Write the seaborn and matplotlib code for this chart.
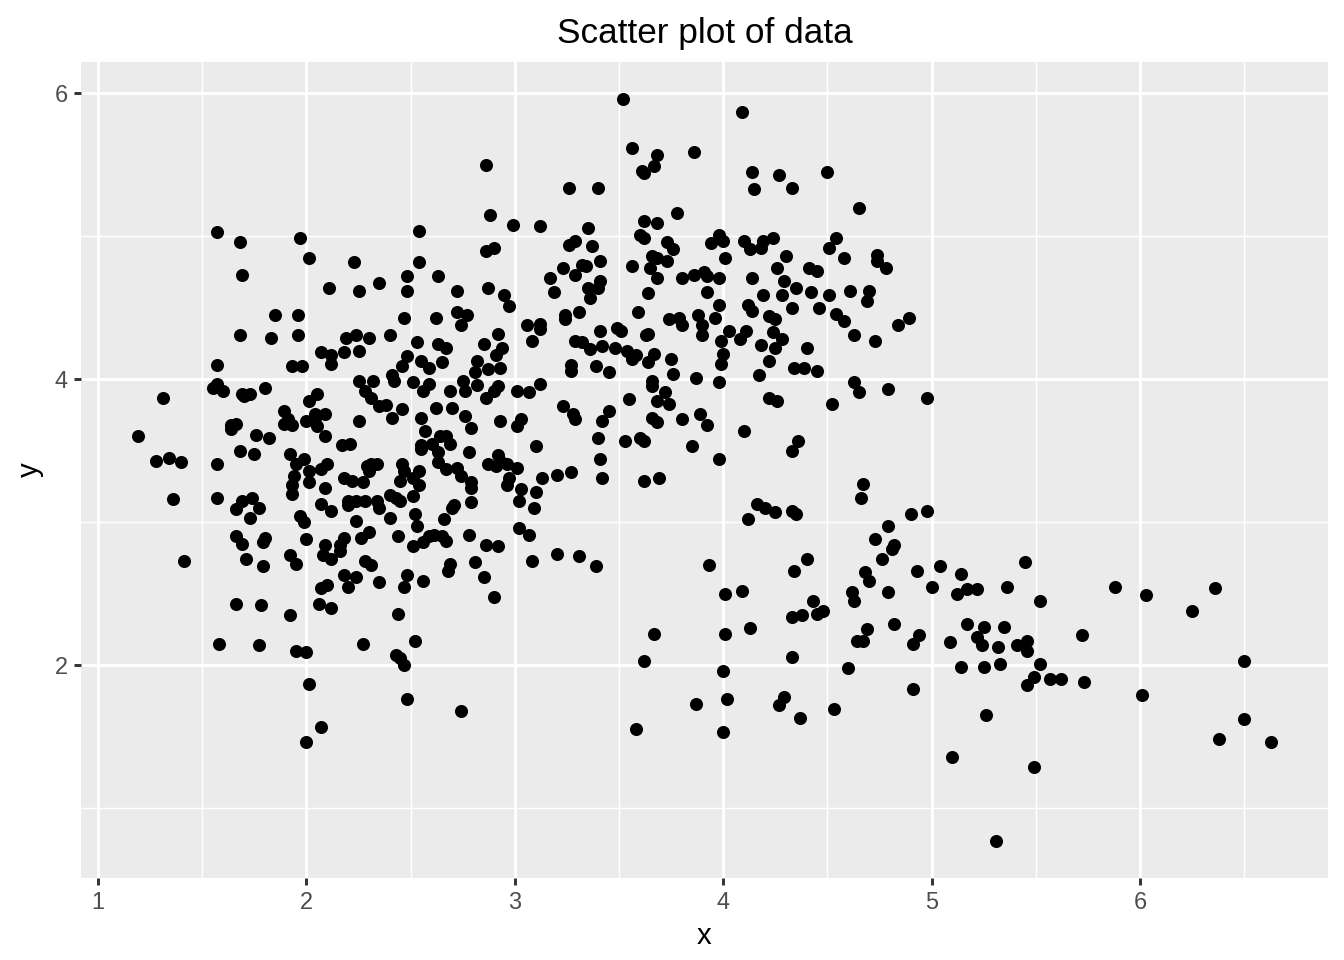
import numpy as np
import pandas as pd
import matplotlib
matplotlib.use("Agg")
import matplotlib.pyplot as plt
import seaborn as sns

# (x, y) values, grouped by area of the plot

# upper left (x < 2.5, y > 4.25)
upper_left = [
    (1.57, 5.03), (1.68, 4.96), (1.97, 4.99), (2.01, 4.85), (1.69, 4.73), (2.23, 4.82),
    (2.11, 4.64), (2.25, 4.62), (2.35, 4.67), (2.48, 4.72), (2.48, 4.62), (1.85, 4.45),
    (1.96, 4.45), (2.47, 4.43), (1.68, 4.31), (1.83, 4.29), (1.96, 4.31), (2.19, 4.29),
    (2.24, 4.31), (2.30, 4.29), (2.40, 4.31),
]

# upper middle (2.5 < x < 4, y > 4.25)
upper_mid = [
    (3.52, 5.96), (2.86, 5.50), (3.56, 5.62), (3.68, 5.57), (3.67, 5.49), (3.61, 5.46),
    (3.62, 5.44), (3.86, 5.59), (3.26, 5.34), (3.40, 5.34), (3.78, 5.16), (2.88, 5.15),
    (2.99, 5.08), (3.12, 5.07), (2.54, 5.04), (3.62, 5.11), (3.68, 5.09), (3.35, 5.06),
    (3.60, 5.01), (3.62, 4.99), (3.26, 4.94), (3.29, 4.97), (3.37, 4.93), (3.98, 5.01),
    (4.00, 4.97), (3.94, 4.95), (3.73, 4.96), (3.76, 4.91), (2.86, 4.90), (2.90, 4.92),
    (3.41, 4.83), (4.01, 4.85), (2.54, 4.82), (3.66, 4.86), (3.68, 4.85), (3.65, 4.78),
    (3.73, 4.83), (3.56, 4.79), (3.23, 4.78), (3.32, 4.80), (3.34, 4.79), (2.63, 4.72),
    (3.29, 4.73), (3.17, 4.71), (3.68, 4.71), (3.80, 4.71), (3.86, 4.73), (3.91, 4.75),
    (3.92, 4.72), (3.98, 4.71), (2.87, 4.64), (2.72, 4.62), (3.41, 4.69), (3.40, 4.64),
    (3.35, 4.64), (3.36, 4.57), (3.19, 4.61), (2.95, 4.59), (2.97, 4.51), (3.64, 4.60),
    (3.92, 4.61), (3.98, 4.52), (3.59, 4.47), (3.96, 4.43), (3.88, 4.45), (3.74, 4.42),
    (3.79, 4.43), (3.80, 4.38), (3.90, 4.38), (3.90, 4.31), (3.31, 4.47), (3.24, 4.45),
    (3.24, 4.42), (2.72, 4.47), (2.77, 4.45), (2.74, 4.38), (2.62, 4.43), (3.06, 4.38),
    (3.12, 4.39), (3.12, 4.35), (3.49, 4.36), (3.51, 4.34), (3.41, 4.34), (2.92, 4.32),
    (3.63, 4.31), (3.64, 4.32), (4.03, 4.34),
]

# upper right (x > 4, y > 4.25)
upper_right = [
    (4.09, 5.87), (4.14, 5.45), (4.15, 5.33), (4.27, 5.43), (4.33, 5.34), (4.50, 5.45),
    (4.65, 5.20), (4.10, 4.97), (4.13, 4.91), (4.18, 4.92), (4.19, 4.97), (4.24, 4.99),
    (4.54, 4.99), (4.51, 4.92), (4.30, 4.86), (4.26, 4.78), (4.41, 4.78), (4.45, 4.76),
    (4.58, 4.85), (4.74, 4.87), (4.74, 4.83), (4.78, 4.78), (4.14, 4.71), (4.29, 4.69),
    (4.35, 4.64), (4.19, 4.59), (4.28, 4.59), (4.42, 4.61), (4.51, 4.59), (4.61, 4.62),
    (4.70, 4.62), (4.69, 4.55), (4.12, 4.52), (4.14, 4.48), (4.33, 4.50), (4.46, 4.50),
    (4.22, 4.44), (4.25, 4.42), (4.54, 4.46), (4.58, 4.41), (4.89, 4.43), (4.84, 4.38),
    (4.63, 4.31), (4.11, 4.34), (4.08, 4.28), (4.24, 4.33), (4.28, 4.28), (4.73, 4.27),
]

# right middle (x > 4, 2.3 < y < 4.25)
right_mid = [
    (4.18, 4.24), (4.25, 4.22), (4.40, 4.22), (4.22, 4.13), (4.34, 4.08), (4.39, 4.08),
    (4.45, 4.06), (4.17, 4.03), (4.63, 3.98), (4.65, 3.91), (4.79, 3.93), (4.98, 3.87),
    (4.52, 3.83), (4.22, 3.87), (4.26, 3.85), (4.10, 3.64), (4.36, 3.57), (4.33, 3.50),
    (4.67, 3.27), (4.66, 3.17), (4.16, 3.13), (4.20, 3.10), (4.25, 3.07), (4.33, 3.08),
    (4.35, 3.06), (4.12, 3.02), (4.90, 3.06), (4.98, 3.08), (4.79, 2.97), (4.73, 2.88),
    (4.82, 2.84), (4.81, 2.81), (4.76, 2.74), (4.40, 2.74), (4.34, 2.66), (4.68, 2.65),
    (4.70, 2.59), (4.93, 2.66), (5.04, 2.69), (5.14, 2.64), (5.45, 2.72), (5.00, 2.55),
    (5.12, 2.50), (5.17, 2.53), (5.22, 2.53), (5.36, 2.55), (5.52, 2.45), (4.09, 2.52),
    (4.62, 2.51), (4.63, 2.45), (4.79, 2.51), (4.43, 2.45), (4.48, 2.38), (4.45, 2.36),
    (4.33, 2.34), (4.38, 2.35),
]

# lower right (x > 4, y < 2.3)
lower_right = [
    (4.13, 2.26), (4.33, 2.06), (4.60, 1.98), (4.69, 2.25), (4.64, 2.17), (4.67, 2.17),
    (4.82, 2.29), (4.91, 2.15), (4.94, 2.21), (4.91, 1.83), (4.29, 1.78), (4.27, 1.72),
    (4.37, 1.63), (4.53, 1.69), (5.09, 2.16), (5.17, 2.29), (5.25, 2.27), (5.35, 2.27),
    (5.22, 2.20), (5.24, 2.14), (5.32, 2.13), (5.41, 2.14), (5.46, 2.17), (5.46, 2.10),
    (5.14, 1.99), (5.25, 1.99), (5.33, 2.01), (5.52, 2.01), (5.49, 1.92), (5.46, 1.86),
    (5.26, 1.65), (5.10, 1.36), (5.49, 1.29), (5.31, 0.77),
]

# far right tail (x > 5.6)
far_right = [
    (5.88, 2.55), (6.03, 2.49), (6.25, 2.38), (6.36, 2.54), (5.72, 2.21), (5.57, 1.90),
    (5.62, 1.90), (5.73, 1.88), (6.01, 1.79), (6.50, 2.03), (6.50, 1.62), (6.38, 1.48),
    (6.63, 1.46),
]

# left cluster (x < 2.5, y < 4.25)
left_cluster = [
    (1.31, 3.87), (1.19, 3.60), (1.28, 3.43), (1.34, 3.45), (1.40, 3.42), (1.36, 3.16),
    (1.41, 2.73), (1.57, 4.10), (1.55, 3.94), (1.57, 3.97), (1.60, 3.92), (1.69, 3.90),
    (1.70, 3.88), (1.73, 3.90), (1.80, 3.94), (1.93, 4.09), (1.98, 4.09), (2.07, 4.19),
    (2.12, 4.17), (2.12, 4.11), (2.18, 4.19), (2.25, 4.20), (1.89, 3.78), (1.91, 3.72),
    (1.93, 3.68), (1.89, 3.69), (2.01, 3.85), (2.05, 3.90), (2.04, 3.76), (2.09, 3.76),
    (2.00, 3.71), (2.05, 3.67), (2.04, 3.73), (2.09, 3.60), (2.25, 3.71), (2.25, 3.99),
    (2.32, 3.99), (2.28, 3.92), (2.31, 3.87), (2.41, 4.03), (2.42, 3.99), (2.48, 4.16),
    (2.46, 4.09), (2.35, 3.81), (2.38, 3.82), (2.41, 3.73), (2.46, 3.79), (1.64, 3.68),
    (1.66, 3.69), (1.64, 3.65), (1.76, 3.61), (1.82, 3.59), (1.68, 3.50), (1.75, 3.48),
    (1.57, 3.41), (1.92, 3.48), (1.95, 3.41), (1.99, 3.44), (2.01, 3.36), (2.01, 3.28),
    (1.94, 3.32), (1.93, 3.26), (1.93, 3.20), (2.07, 3.37), (2.10, 3.41), (2.09, 3.24),
    (2.17, 3.54), (2.21, 3.55), (2.18, 3.31), (2.22, 3.29), (2.27, 3.28), (2.29, 3.39),
    (2.31, 3.41), (2.34, 3.41), (2.30, 3.36), (2.46, 3.41), (2.45, 3.29), (2.47, 3.36),
    (1.57, 3.17), (1.66, 3.09), (1.69, 3.15), (1.74, 3.17), (1.77, 3.10), (1.73, 3.03),
    (1.97, 3.04), (1.99, 3.00), (2.07, 3.13), (2.12, 3.08), (2.20, 3.15), (2.24, 3.15),
    (2.28, 3.15), (2.20, 3.12), (2.34, 3.15), (2.35, 3.10), (2.40, 3.19), (2.43, 3.17),
    (2.45, 3.15), (2.40, 3.03), (2.24, 3.01), (1.66, 2.90), (1.69, 2.85), (1.80, 2.89),
    (1.79, 2.86), (2.00, 2.88), (1.71, 2.74), (1.79, 2.69), (1.92, 2.77), (1.95, 2.71),
    (2.09, 2.84), (2.08, 2.77), (2.12, 2.74), (2.16, 2.80), (2.18, 2.89), (2.16, 2.84),
    (2.26, 2.89), (2.30, 2.93), (2.28, 2.73), (2.31, 2.70), (2.44, 2.90), (2.18, 2.63),
    (2.24, 2.62), (2.07, 2.54), (2.10, 2.56), (2.20, 2.55), (2.35, 2.58), (1.66, 2.43),
    (1.78, 2.42), (2.06, 2.43), (2.12, 2.40), (1.92, 2.35), (2.44, 2.36), (2.48, 2.63),
    (2.47, 2.55),
]

# lower left (x < 2.5, y < 2.3)
lower_left = [
    (1.58, 2.15), (1.77, 2.14), (1.95, 2.10), (2.00, 2.09), (2.27, 2.15), (2.43, 2.07),
    (2.45, 2.05), (2.47, 2.00), (2.01, 1.87), (2.48, 1.76), (2.07, 1.57), (2.00, 1.46),
]

# centre cluster (2.5 < x < 4, y < 4.25)
centre = [
    (2.53, 4.26), (2.63, 4.25), (2.67, 4.22), (2.85, 4.25), (2.94, 4.22), (3.08, 4.27),
    (3.29, 4.27), (3.32, 4.26), (3.36, 4.21), (3.42, 4.23), (3.48, 4.22), (3.54, 4.20),
    (3.58, 4.17), (3.56, 4.14), (3.67, 4.18), (3.99, 4.27), (2.55, 4.13), (2.59, 4.08),
    (2.65, 4.12), (2.82, 4.13), (2.81, 4.05), (2.87, 4.07), (2.93, 4.08), (2.91, 4.17),
    (3.27, 4.10), (3.27, 4.06), (3.39, 4.09), (3.45, 4.05), (3.64, 4.12), (3.75, 4.14),
    (3.76, 4.04), (3.99, 4.11), (4.00, 4.18), (2.51, 3.98), (2.56, 3.92), (2.59, 3.97),
    (2.75, 3.99), (2.76, 3.92), (2.82, 3.96), (2.69, 3.92), (2.86, 3.87), (2.90, 3.92),
    (2.92, 3.95), (3.01, 3.92), (3.07, 3.91), (3.12, 3.97), (3.66, 3.99), (3.66, 3.95),
    (3.87, 4.01), (3.98, 3.98), (3.55, 3.86), (3.68, 3.85), (3.72, 3.91), (3.74, 3.83),
    (3.23, 3.81), (3.28, 3.76), (3.29, 3.72), (3.45, 3.78), (3.42, 3.71), (3.66, 3.73),
    (3.68, 3.70), (3.80, 3.72), (3.89, 3.76), (3.92, 3.68), (2.62, 3.80), (2.70, 3.80),
    (2.76, 3.74), (2.55, 3.73), (2.79, 3.66), (2.93, 3.71), (3.03, 3.72), (3.01, 3.67),
    (2.57, 3.64), (2.64, 3.60), (2.67, 3.60), (2.69, 3.55), (2.55, 3.54), (2.55, 3.51),
    (2.60, 3.55), (2.63, 3.49), (2.63, 3.42), (2.78, 3.49), (3.10, 3.53), (3.40, 3.59),
    (3.53, 3.57), (3.60, 3.59), (3.62, 3.57), (3.85, 3.53), (2.92, 3.47), (2.93, 3.43),
    (2.96, 3.41), (2.91, 3.39), (2.87, 3.41), (3.01, 3.38), (3.41, 3.44), (3.98, 3.44),
    (2.54, 3.36), (2.67, 3.37), (2.72, 3.38), (2.74, 3.32), (2.79, 3.28), (2.79, 3.24),
    (2.97, 3.31), (2.96, 3.26), (3.13, 3.31), (3.20, 3.33), (3.27, 3.35), (3.42, 3.31),
    (3.62, 3.29), (3.69, 3.31), (2.51, 3.31), (2.54, 3.26), (2.51, 3.18), (3.03, 3.23),
    (3.02, 3.15), (3.10, 3.21), (3.09, 3.10), (2.79, 3.14), (2.70, 3.10), (2.71, 3.12),
    (2.66, 3.02), (2.52, 3.06), (2.53, 2.97), (3.02, 2.96), (3.07, 2.91), (2.78, 2.91),
    (2.56, 2.86), (2.59, 2.90), (2.65, 2.90), (2.67, 2.87), (2.61, 2.91), (2.51, 2.83),
    (2.86, 2.84), (2.92, 2.83), (3.20, 2.78), (3.31, 2.76), (3.39, 2.69), (3.08, 2.73),
    (3.93, 2.70), (2.81, 2.72), (2.69, 2.71), (2.68, 2.66), (2.85, 2.62), (2.56, 2.59),
    (2.90, 2.48), (4.01, 2.50),
]

# lower centre (2.5 < x < 4, y < 2.3)
lower_centre = [
    (2.52, 2.17), (2.74, 1.68), (3.67, 2.22), (3.62, 2.03), (4.00, 1.96), (4.01, 2.22),
    (4.02, 1.76), (3.87, 1.73), (4.00, 1.53), (3.58, 1.55),
]

groups = [upper_left, upper_mid, upper_right, right_mid, lower_right, far_right,
          left_cluster, lower_left, centre, lower_centre]
points = [p for g in groups for p in g]
df = pd.DataFrame(points, columns=["x", "y"])

sns.set_theme(style="darkgrid", rc={
    "axes.facecolor": "#EBEBEB",
    "figure.facecolor": "white",
    "grid.color": "white",
})
plt.rcParams["font.family"] = ["Liberation Sans", "DejaVu Sans"]

fig, ax = plt.subplots(figsize=(7, 5), dpi=192)
fig.subplots_adjust(left=0.0603, right=0.988, top=0.9354, bottom=0.0854)

sns.scatterplot(data=df, x="x", y="y", color="black", s=24, linewidth=0, ax=ax)

ax.margins(0.05)
ax.set_xticks([1, 2, 3, 4, 5, 6])
ax.set_xticks(np.arange(1.5, 7.0, 1.0), minor=True)
ax.set_yticks([2, 4, 6])
ax.set_yticks([1, 3, 5], minor=True)
ax.set_axisbelow(True)
ax.grid(which="major", color="white", linewidth=1.1)
ax.grid(which="minor", color="white", linewidth=0.55)
ax.tick_params(which="major", bottom=True, left=True, length=2.75, width=1.1,
               color="#333333", labelsize=8.8, labelcolor="#4D4D4D", pad=2.2)
ax.tick_params(which="minor", length=0)
for sp in ax.spines.values():
    sp.set_visible(False)

ax.set_xlabel("x", fontsize=11, color="black", labelpad=3)
ax.set_ylabel("y", fontsize=11, color="black", labelpad=4)
ax.set_title("Scatter plot of data", fontsize=13.2, color="black", pad=7)

fig.savefig("out.png", dpi=192)
